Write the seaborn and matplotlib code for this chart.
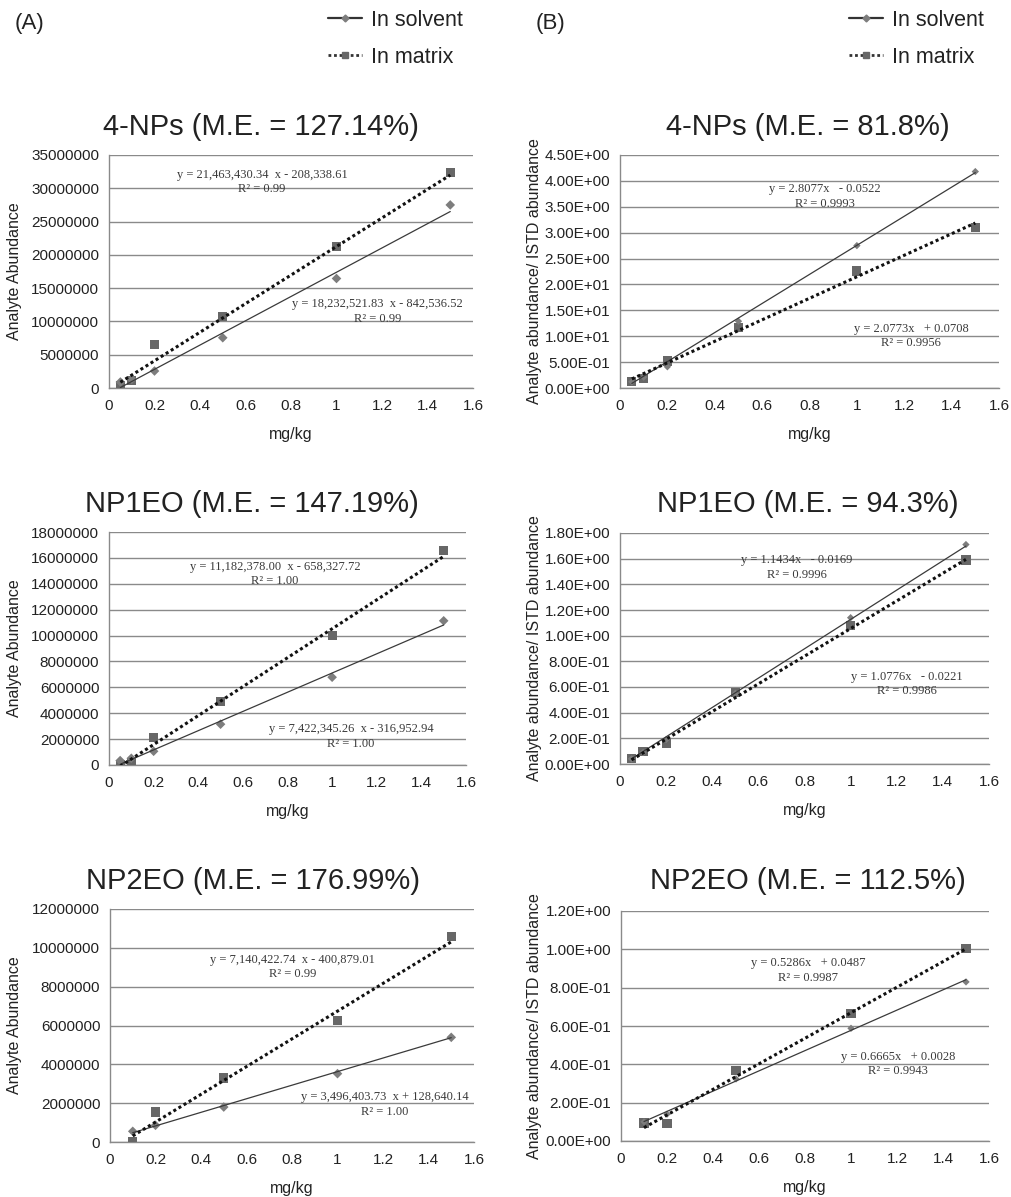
"""
Matrix-effect calibration curves for nonylphenol and its ethoxylates.
(A) raw analyte abundance, (B) analyte / internal-standard ratio.
"""

import numpy as np
import pandas as pd
import matplotlib
matplotlib.use("Agg")
import matplotlib.pyplot as plt
from matplotlib.lines import Line2D
from matplotlib.ticker import FuncFormatter
import seaborn as sns


W, H = 1012, 1197

# ---------------------------------------------------------------------------
# Data
# ---------------------------------------------------------------------------

CONC = [0.05, 0.1, 0.2, 0.5, 1.0, 1.5]
CONC_NP2EO = [0.1, 0.2, 0.5, 1.0, 1.5]

# (A) analyte abundance
A_NPS_SOLVENT = [900000, 1300000, 2550000, 7550000, 16450000, 27500000]
A_NPS_MATRIX = [300000, 1150000, 6500000, 10700000, 21200000, 32400000]
A_NP1EO_SOLVENT = [340000, 520000, 1060000, 3150000, 6780000, 11140000]
A_NP1EO_MATRIX = [50000, 180000, 2140000, 4900000, 10000000, 16580000]
A_NP2EO_SOLVENT = [550000, 860000, 1800000, 3520000, 5390000]
A_NP2EO_MATRIX = [30000, 1550000, 3300000, 6270000, 10590000]

# (B) analyte abundance / ISTD abundance
B_NPS_SOLVENT = [0.12, 0.21, 0.41, 1.29, 2.75, 4.18]
B_NPS_MATRIX = [0.12, 0.18, 0.52, 1.17, 2.26, 3.10]
B_NP1EO_SOLVENT = [0.04, 0.09, 0.19, 0.55, 1.14, 1.71]
B_NP1EO_MATRIX = [0.04, 0.10, 0.16, 0.56, 1.08, 1.59]
B_NP2EO_SOLVENT = [0.10, 0.14, 0.324, 0.588, 0.83]
B_NP2EO_MATRIX = [0.094, 0.092, 0.368, 0.666, 1.004]

# trendlines (slope, intercept) as printed on the chart
FIT_A_NPS = {"solvent": (18232521.83, -842536.52), "matrix": (21463430.34, -208338.61)}
FIT_A_NP1EO = {"solvent": (7422345.26, -316952.94), "matrix": (11182378.00, -658327.72)}
FIT_A_NP2EO = {"solvent": (3496403.73, 128640.14), "matrix": (7140422.74, -400879.01)}
FIT_B_NPS = {"solvent": (2.8077, -0.0522), "matrix": (2.0773, 0.0708)}
FIT_B_NP1EO = {"solvent": (1.1434, -0.0169), "matrix": (1.0776, -0.0221)}
FIT_B_NP2EO = {"solvent": (0.5286, 0.0487), "matrix": (0.6665, 0.0028)}

TITLES_A = ["4-NPs (M.E. = 127.14%)", "NP1EO (M.E. = 147.19%)", "NP2EO (M.E. = 176.99%)"]
TITLES_B = ["4-NPs (M.E. = 81.8%)", "NP1EO (M.E. = 94.3%)", "NP2EO (M.E. = 112.5%)"]

EQ_A = [
    ["y = 21,463,430.34  x - 208,338.61\nR² = 0.99", "y = 18,232,521.83  x - 842,536.52\nR² = 0.99"],
    ["y = 11,182,378.00  x - 658,327.72\nR² = 1.00", "y = 7,422,345.26  x - 316,952.94\nR² = 1.00"],
    ["y = 7,140,422.74  x - 400,879.01\nR² = 0.99", "y = 3,496,403.73  x + 128,640.14\nR² = 1.00"],
]
EQ_B = [
    ["y = 2.8077x   - 0.0522\nR² = 0.9993", "y = 2.0773x   + 0.0708\nR² = 0.9956"],
    ["y = 1.1434x   - 0.0169\nR² = 0.9996", "y = 1.0776x   - 0.0221\nR² = 0.9986"],
    ["y = 0.5286x   + 0.0487\nR² = 0.9987", "y = 0.6665x   + 0.0028\nR² = 0.9943"],
]

XTICKS = [0, 0.2, 0.4, 0.6, 0.8, 1.0, 1.2, 1.4, 1.6]
XTICKLABELS = ["0", "0.2", "0.4", "0.6", "0.8", "1", "1.2", "1.4", "1.6"]

YTICKS_A = [np.arange(0, 35000001, 5000000), np.arange(0, 18000001, 2000000),
            np.arange(0, 12000001, 2000000)]
YTICKS_B = [np.arange(0, 4.51, 0.5), np.arange(0, 1.81, 0.2), np.arange(0, 1.21, 0.2)]
YTICKLABELS_B = [
    ["0.00E+00", "5.00E-01", "1.00E+01", "1.50E+01", "2.00E+01",
     "2.50E+00", "3.00E+00", "3.50E+00", "4.00E+00", "4.50E+00"],
    ["0.00E+00", "2.00E-01", "4.00E-01", "6.00E-01", "8.00E-01",
     "1.00E+00", "1.20E+00", "1.40E+00", "1.60E+00", "1.80E+00"],
    ["0.00E+00", "2.00E-01", "4.00E-01", "6.00E-01", "8.00E-01",
     "1.00E+00", "1.20E+00"],
]

# ---------------------------------------------------------------------------
# Layout (pixels: left, top, right, bottom) and styling
# ---------------------------------------------------------------------------

BOX_A = [(109, 155, 473, 388), (109, 532, 466, 765), (110, 909, 474, 1142)]
BOX_B = [(620, 155, 999, 388), (620, 533, 989, 764), (621, 911, 989, 1141)]
TITLE_XY_A = [(261, 135), (252, 512), (253, 889)]
TITLE_XY_B = [(808, 135), (808, 512), (808, 889)]
# y-label right edge, pixels
YLABEL_RIGHT_A = 22
YLABEL_RIGHT_B = 542
# equation block centres in data units: (upper label, lower label)
EQ_POS_A = [[(0.673, 30.9e6), (1.18, 11.5e6)],
            [(0.744, 14.75e6), (1.085, 2.2e6)],
            [(0.804, 9.0e6), (1.209, 1.93e6)]]
EQ_POS_B = [[(0.865, 3.70), (1.228, 1.01)],
            [(0.768, 1.531), (1.245, 0.623)],
            [(0.813, 0.890), (1.204, 0.402)]]

GRID_GREY = "#8a8a8a"
SQUARE_GREY = "#676767"
DIAMOND_GREY = "#7d7d7d"
TEXT_DARK = "#222222"


def draw_panel(fig, box, conc, solvent, matrix, fit, yticks, ylabels_fmt,
               ylabel, ylabel_right, eqs, eq_pos, diamond_s):
    left, top, right, bottom = box
    ax = fig.add_axes([left / W, 1 - bottom / H, (right - left) / W, (bottom - top) / H])

    df = pd.DataFrame({"conc": conc, "solvent": solvent, "matrix": matrix})
    sns.scatterplot(data=df, x="conc", y="matrix", marker="s", s=44, color=SQUARE_GREY,
                    edgecolor="none", ax=ax, zorder=3)
    sns.scatterplot(data=df, x="conc", y="solvent", marker="D", s=diamond_s, color=DIAMOND_GREY,
                    edgecolor="none", ax=ax, zorder=3)

    # linear trendlines across the calibrated range
    xs = np.array([min(conc), max(conc)])
    ax.plot(xs, fit["solvent"][0] * xs + fit["solvent"][1], color="#3a3a3a", lw=0.9, zorder=4)
    ax.plot(xs, fit["matrix"][0] * xs + fit["matrix"][1], color="#111111", lw=2.2,
            ls=(0, (1, 0.95)), zorder=4)

    for txt, (ex, ey) in zip(eqs, eq_pos):
        ax.text(ex, ey, txt, ha="center", va="center", family="Liberation Serif",
                fontsize=9, color="#3a3a3a", linespacing=1.25)

    ax.set_xlim(0, 1.6)
    ax.set_ylim(yticks[0], yticks[-1])
    ax.set_xticks(XTICKS)
    ax.set_xticklabels(XTICKLABELS)
    ax.set_yticks(yticks)
    if callable(ylabels_fmt):
        ax.yaxis.set_major_formatter(FuncFormatter(ylabels_fmt))
    else:
        ax.set_yticklabels(ylabels_fmt)

    ax.grid(axis="y", color=GRID_GREY, lw=1.0)
    ax.grid(axis="x", visible=False)
    ax.set_axisbelow(True)
    for side in ["top", "right"]:
        ax.spines[side].set_visible(False)
    for side in ["left", "bottom"]:
        ax.spines[side].set_color(GRID_GREY)
        ax.spines[side].set_linewidth(1.0)
    ax.tick_params(axis="x", length=4, width=1, color=GRID_GREY, pad=4,
                   labelsize=11, labelcolor=TEXT_DARK)
    ax.tick_params(axis="y", length=0, pad=7, labelsize=11, labelcolor=TEXT_DARK)

    ax.set_xlabel("mg/kg", fontsize=11.5, color=TEXT_DARK, labelpad=10)
    ax.set_ylabel(ylabel, fontsize=11.5, color=TEXT_DARK)
    # rotated label: the anchor x is its right-hand edge
    ax.yaxis.set_label_coords((ylabel_right - left) / (right - left), 0.5)
    return ax


def main():
    sns.set_style("white")
    plt.rcParams["font.family"] = ["Liberation Sans", "DejaVu Sans"]

    fig = plt.figure(figsize=(W / 100, H / 100), dpi=100)

    conc_sets = [CONC, CONC, CONC_NP2EO]
    a_sets = [(A_NPS_SOLVENT, A_NPS_MATRIX), (A_NP1EO_SOLVENT, A_NP1EO_MATRIX),
              (A_NP2EO_SOLVENT, A_NP2EO_MATRIX)]
    b_sets = [(B_NPS_SOLVENT, B_NPS_MATRIX), (B_NP1EO_SOLVENT, B_NP1EO_MATRIX),
              (B_NP2EO_SOLVENT, B_NP2EO_MATRIX)]
    a_fits = [FIT_A_NPS, FIT_A_NP1EO, FIT_A_NP2EO]
    b_fits = [FIT_B_NPS, FIT_B_NP1EO, FIT_B_NP2EO]

    for i in range(3):
        draw_panel(fig, BOX_A[i], conc_sets[i], a_sets[i][0], a_sets[i][1], a_fits[i],
                   YTICKS_A[i], lambda v, p: f"{int(round(v))}", "Analyte Abundance",
                   YLABEL_RIGHT_A, EQ_A[i], EQ_POS_A[i], diamond_s=24)
        draw_panel(fig, BOX_B[i], conc_sets[i], b_sets[i][0], b_sets[i][1], b_fits[i],
                   YTICKS_B[i], YTICKLABELS_B[i], "Analyte abundance/ ISTD abundance",
                   YLABEL_RIGHT_B, EQ_B[i], EQ_POS_B[i], diamond_s=14)
        fig.text(TITLE_XY_A[i][0] / W, 1 - TITLE_XY_A[i][1] / H, TITLES_A[i],
                 ha="center", va="baseline", fontsize=21, color=TEXT_DARK)
        fig.text(TITLE_XY_B[i][0] / W, 1 - TITLE_XY_B[i][1] / H, TITLES_B[i],
                 ha="center", va="baseline", fontsize=21, color=TEXT_DARK)

    # ---------------------------------------------------------------------
    # Panel letters and legends
    # ---------------------------------------------------------------------
    handles = [
        Line2D([], [], color="#333333", lw=1.6, marker="D", ms=3.5,
               markerfacecolor=DIAMOND_GREY, markeredgecolor=DIAMOND_GREY),
        Line2D([], [], color="#333333", lw=2.0, ls=(0, (1, 1)), marker="s", ms=5,
               markerfacecolor=SQUARE_GREY, markeredgecolor=SQUARE_GREY),
    ]
    labels = ["In solvent", "In matrix"]
    for letter, lx, hx in [("(A)", 15, 328), ("(B)", 536, 849)]:
        fig.text(lx / W, 1 - 23 / H, letter, fontsize=16, va="center", color=TEXT_DARK)
        fig.legend(handles, labels, loc="upper left", bbox_to_anchor=(hx / W, 1 - 10 / H),
                   frameon=False, fontsize=15.5, handlelength=1.6, handletextpad=0.4,
                   labelspacing=0.74, borderpad=0, borderaxespad=0, labelcolor=TEXT_DARK)

    fig.savefig("out.png", dpi=100)
    plt.close(fig)


if __name__ == "__main__":
    main()
